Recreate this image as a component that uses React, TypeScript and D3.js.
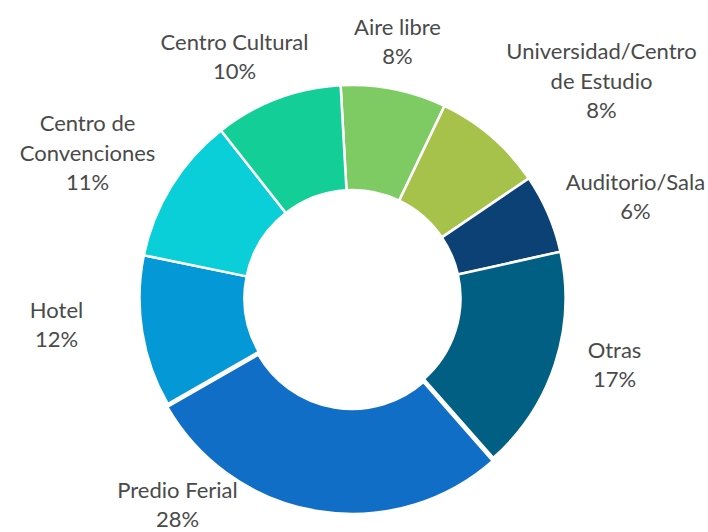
import React from "react";
import * as d3 from "d3";

const categories = [
  "Aire libre",
  "Universidad/Centro de Estudio",
  "Auditorio/Sala",
  "Otras",
  "Predio Ferial",
  "Hotel",
  "Centro de Convenciones",
  "Centro Cultural",
];
const values = [8.0, 8.4, 6.0, 17.0, 28.2, 11.5, 11.2, 9.7];
const labelLines = [
  ["Aire libre"],
  ["Universidad/Centro", "de Estudio"],
  ["Auditorio/Sala"],
  ["Otras"],
  ["Predio Ferial"],
  ["Hotel"],
  ["Centro de", "Convenciones"],
  ["Centro Cultural"],
];
const colors = [
  "#7ECB63",
  "#A7C24B",
  "#0B4174",
  "#005F83",
  "#116EC6",
  "#0499D6",
  "#0ACFD8",
  "#14CE97",
];
// label block centres relative to the pie centre
const labelOffsets: [number, number][] = [
  [45, -256],
  [249, -217],
  [283, -101],
  [262, 67],
  [-175, 207],
  [-296, 27],
  [-265, -145],
  [-118, -241],
];
const explode = [0, 0, 0, 0, 3, 0, 0, 0];

const W = 708;
const H = 532;
const cx = 352.5;
const cy = 298;
const outerR = 213;
const innerR = 108;
const lineH = 29.5;

export default function App() {
  const total = d3.sum(values);
  const pie = d3
    .pie<number>()
    .value((d) => d)
    .sort(null)
    .startAngle((-3.2 * Math.PI) / 180)
    .endAngle((-3.2 * Math.PI) / 180 + 2 * Math.PI);
  const arcs = pie(values);
  const arc = d3.arc<d3.PieArcDatum<number>>().innerRadius(innerR).outerRadius(outerR);

  return (
    <svg
      width={W}
      height={H}
      style={{ position: "absolute", left: 0, top: 0, background: "#fff" }}
      fontFamily="Lato, 'Open Sans', sans-serif"
    >
      <g transform={`translate(${cx},${cy})`}>
        {arcs.map((a, i) => {
          const mid = (a.startAngle + a.endAngle) / 2;
          const ox = Math.sin(mid) * explode[i];
          const oy = -Math.cos(mid) * explode[i];
          return (
            <path
              key={categories[i]}
              d={arc(a) || ""}
              fill={colors[i]}
              stroke="#fff"
              strokeWidth={2.5}
              transform={`translate(${ox},${oy})`}
            />
          );
        })}
        {arcs.map((a, i) => {
          const lines = [...labelLines[i], `${Math.round((a.value / total) * 100)}%`];
          const [lx, ly] = labelOffsets[i];
          const y0 = ly - ((lines.length - 1) * lineH) / 2;
          return (
            <text
              key={"l" + i}
              textAnchor="middle"
              fontSize={22}
              fill="#4a4a4a"
            >
              {lines.map((t, j) => (
                <tspan key={j} x={lx} y={y0 + j * lineH} dy="0.35em">
                  {t}
                </tspan>
              ))}
            </text>
          );
        })}
      </g>
    </svg>
  );
}
